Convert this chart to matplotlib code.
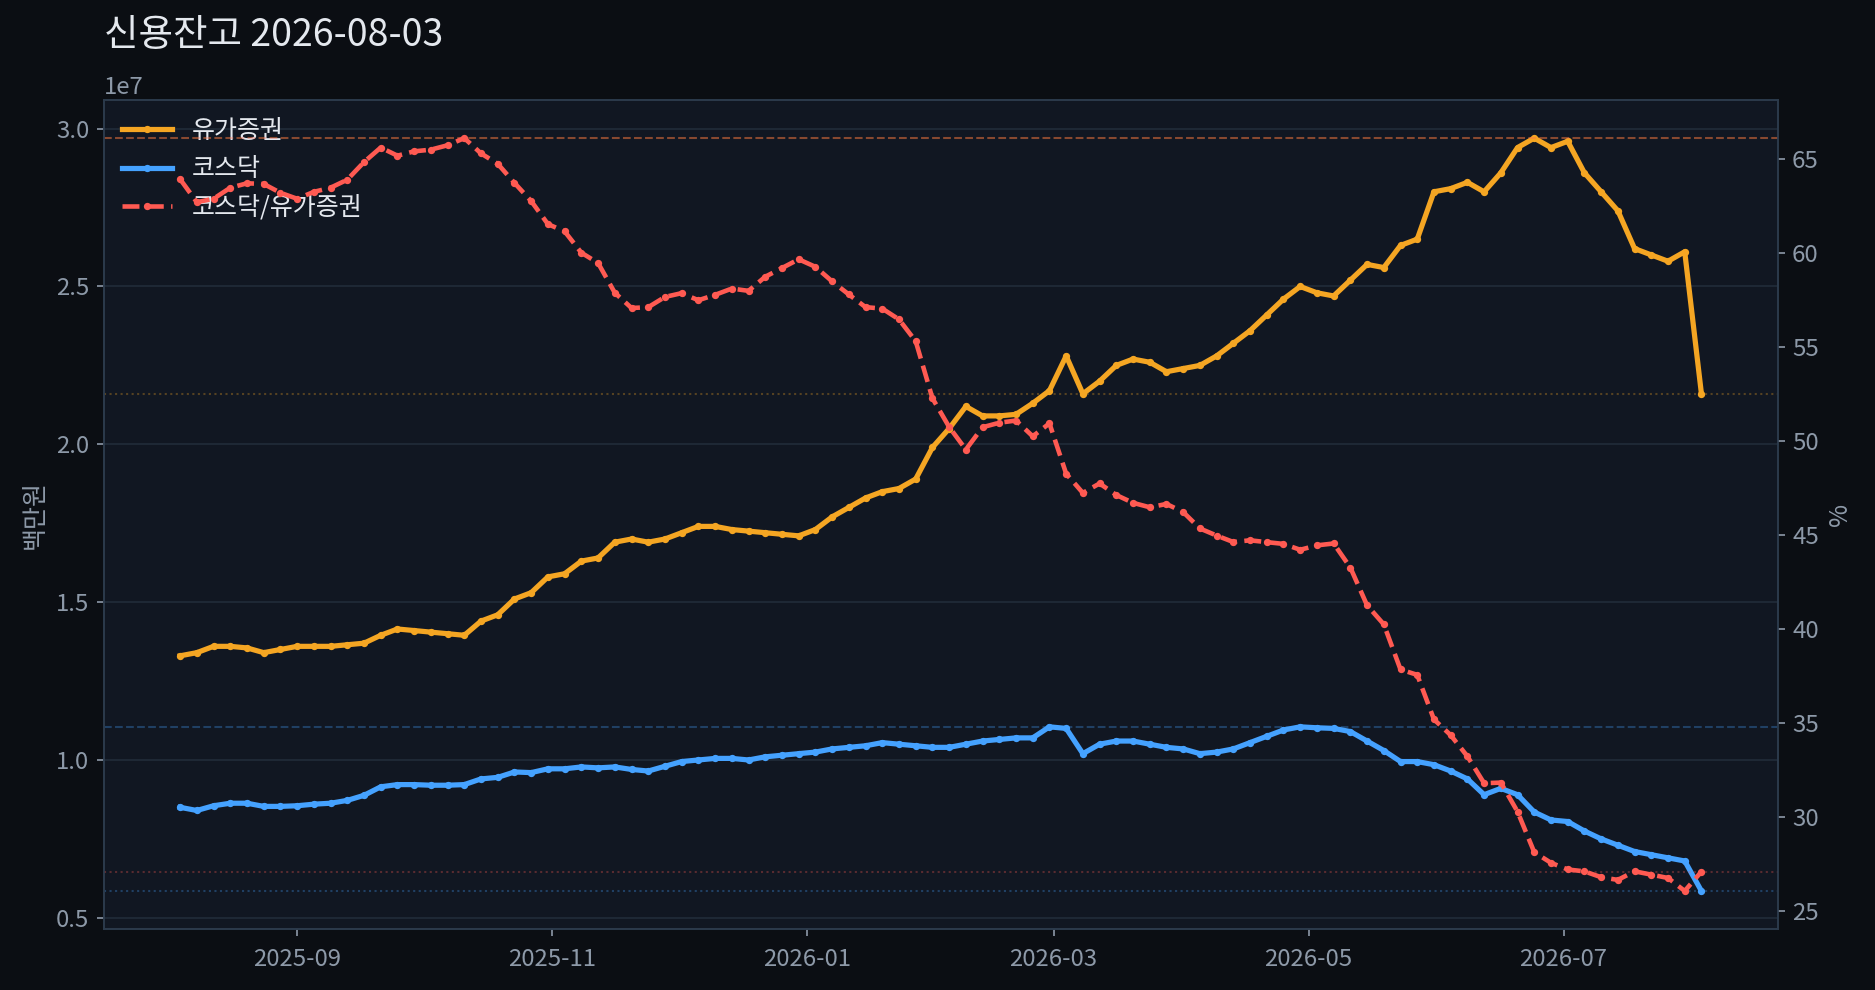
import numpy as np
import pandas as pd
import matplotlib
matplotlib.use('Agg')
import matplotlib.pyplot as plt
import matplotlib.dates as mdates
from matplotlib.ticker import MultipleLocator

plt.rcParams['font.family'] = ['Noto Sans CJK KR', 'DejaVu Sans']

# 4-day sampling, 2025-08-04 .. 2026-08-03
dates = pd.date_range('2025-08-04', periods=92, freq='4D')

# credit balance, units of 1e6 (백만원 x 1e6)
kospi = [13.3, 13.4, 13.6, 13.6, 13.55, 13.4, 13.5, 13.6, 13.6, 13.6,
         13.65, 13.7, 13.95, 14.15, 14.1, 14.05, 14.0, 13.95, 14.4, 14.6,
         15.1, 15.3, 15.8, 15.9, 16.3, 16.4, 16.9, 17.0, 16.9, 17.0,
         17.2, 17.4, 17.4, 17.3, 17.25, 17.2, 17.15, 17.1, 17.3, 17.7,
         18.0, 18.3, 18.5, 18.6, 18.9, 19.9, 20.5, 21.2, 20.9, 20.9,
         20.95, 21.3, 21.7, 22.8, 21.6, 22.0, 22.5, 22.7, 22.6, 22.3,
         22.4, 22.5, 22.8, 23.2, 23.6, 24.1, 24.6, 25.0, 24.8, 24.7,
         25.2, 25.7, 25.6, 26.3, 26.5, 28.0, 28.1, 28.3, 28.0, 28.6,
         29.4, 29.7, 29.4, 29.6, 28.6, 28.0, 27.4, 26.2, 26.0, 25.8,
         26.1, 21.6]
kosdaq = [8.5, 8.4, 8.55, 8.63, 8.63, 8.53, 8.53, 8.55, 8.6, 8.63,
          8.72, 8.88, 9.15, 9.22, 9.22, 9.2, 9.2, 9.22, 9.4, 9.45,
          9.62, 9.6, 9.72, 9.72, 9.78, 9.75, 9.78, 9.7, 9.65, 9.8,
          9.95, 10.0, 10.05, 10.05, 10.0, 10.1, 10.15, 10.2, 10.25, 10.35,
          10.4, 10.45, 10.55, 10.5, 10.45, 10.4, 10.4, 10.5, 10.6, 10.65,
          10.7, 10.7, 11.05, 11.0, 10.2, 10.5, 10.6, 10.6, 10.5, 10.4,
          10.35, 10.2, 10.25, 10.35, 10.55, 10.75, 10.95, 11.05, 11.02, 11.0,
          10.9, 10.6, 10.3, 9.95, 9.95, 9.85, 9.65, 9.4, 8.9, 9.1,
          8.9, 8.35, 8.1, 8.05, 7.75, 7.5, 7.3, 7.1, 7.0, 6.9,
          6.8, 5.85]

kospi = np.array(kospi) * 1e6
kosdaq = np.array(kosdaq) * 1e6
ratio = kosdaq / kospi * 100

c_kospi = '#f5a623'
c_kosdaq = '#45a2ff'
c_ratio = '#ff5a52'
fig_bg = '#0b0e13'
ax_bg = '#111722'
txt = '#8d99a8'
spine = '#2c3b4c'

fig = plt.figure(figsize=(12.5, 6.6), dpi=150, facecolor=fig_bg)
ax1 = fig.add_axes([0.0555, 0.062, 0.8925, 0.8365])
ax1.set_facecolor(ax_bg)
ax2 = ax1.twinx()

l1, = ax1.plot(dates, kospi, color=c_kospi, lw=2.5, marker='o', ms=2.5, label='유가증권', zorder=3)
l2, = ax1.plot(dates, kosdaq, color=c_kosdaq, lw=2.5, marker='o', ms=2.5, label='코스닥', zorder=3)
l3, = ax2.plot(dates, ratio, color=c_ratio, lw=2.2, ls='--', marker='o', ms=2.5, label='코스닥/유가증권')

# reference lines: max (dashed) and last (dotted)
ax1.axhline(kospi.max(), color=c_kospi, ls='--', lw=1, alpha=0.3)
ax1.axhline(kospi[-1], color=c_kospi, ls=':', lw=1, alpha=0.3)
ax1.axhline(kosdaq.max(), color=c_kosdaq, ls='--', lw=1, alpha=0.3)
ax1.axhline(kosdaq[-1], color=c_kosdaq, ls=':', lw=1, alpha=0.3)
ax2.axhline(ratio.max(), color=c_ratio, ls='--', lw=1, alpha=0.3)
ax2.axhline(ratio[-1], color=c_ratio, ls=':', lw=1, alpha=0.3)

ax1.grid(axis='y', color='#1e2835', lw=1)
ax1.set_axisbelow(True)

for ax in (ax1, ax2):
    for s in ax.spines.values():
        s.set_color(spine)
    ax.tick_params(colors=txt, labelsize=11.5)
ax1.tick_params(axis='x', pad=6)
ax1.yaxis.get_offset_text().set_color(txt)
ax1.yaxis.get_offset_text().set_fontsize(11.5)

ax1.xaxis.set_major_locator(mdates.MonthLocator(bymonth=[1, 3, 5, 7, 9, 11]))
ax1.xaxis.set_major_formatter(mdates.DateFormatter('%Y-%m'))
ax2.yaxis.set_major_locator(MultipleLocator(5))

ax1.set_ylabel('백만원', color=txt, fontsize=12)
ax2.set_ylabel('%', color=txt, fontsize=12)

ax1.set_title('신용잔고 2026-08-03', loc='left', color='#e4e8ee', fontsize=18, pad=26)

leg = ax1.legend(handles=[l1, l2, l3], loc='upper left', frameon=False,
                 fontsize=12, labelcolor='#e4e8ee', borderaxespad=0.3)

fig.savefig('out.png', facecolor=fig_bg)
